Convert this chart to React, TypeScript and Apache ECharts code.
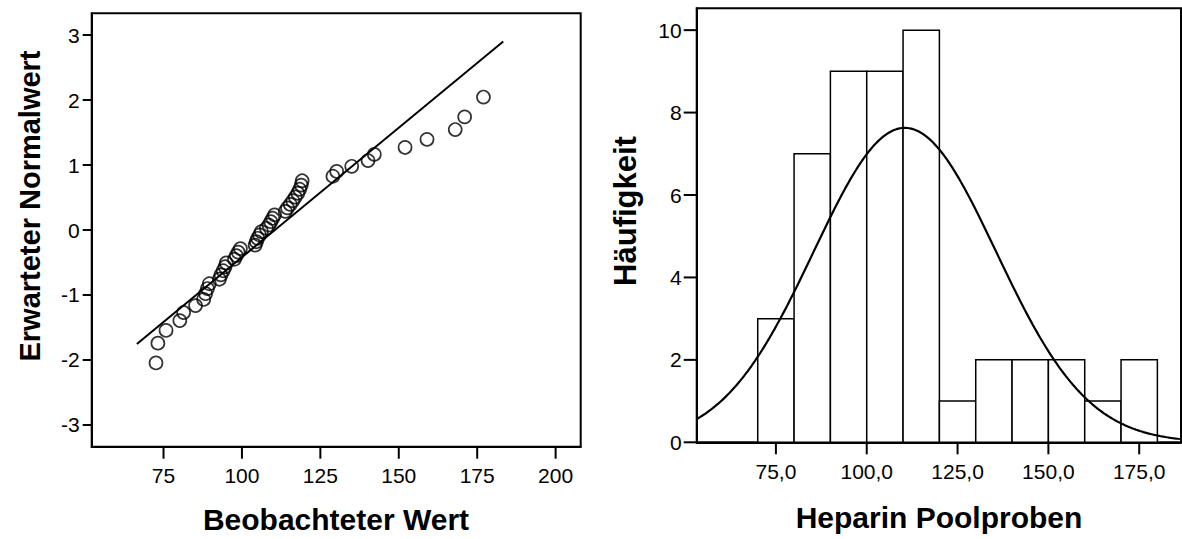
import React, { useEffect, useRef } from "react";
import * as echarts from "echarts";

// Observed heparin pool sample values, sorted ascending (n = 48)
const observedValues = [
  72.6, 73.2, 75.8, 80.2, 81.4, 85.2, 87.8, 88.4, 89.0, 89.6,
  92.8, 93.3, 94.0, 94.6, 95.0, 97.6, 98.2, 98.8, 99.5,
  104.2, 104.6, 105.0, 105.6, 106.2, 107.8, 108.6, 109.2, 109.8,
  110.4, 113.8, 114.5, 115.4, 116.2, 117.0, 117.8, 118.4, 118.9, 119.2,
  129.0, 130.2, 135.0, 140.2, 142.2, 152.0, 159.0, 168.0, 171.0, 177.0,
];

// Expected normal value for each rank
const expectedNormal = [
  -2.045, -1.741, -1.545, -1.394, -1.27, -1.163, -1.068, -0.98, -0.901, -0.827,
  -0.757, -0.691, -0.627, -0.566, -0.507, -0.45, -0.394, -0.34, -0.286,
  -0.233, -0.18, -0.128, -0.077, -0.026, 0.026, 0.077, 0.128, 0.18,
  0.233, 0.286, 0.34, 0.394, 0.45, 0.507, 0.566, 0.627, 0.691, 0.757,
  0.827, 0.901, 0.98, 1.068, 1.163, 1.27, 1.394, 1.545, 1.741, 2.045,
];

// Histogram bins
const binStarts = [70, 80, 90, 100, 110, 120, 130, 140, 150, 160, 170];
const binCounts = [3, 7, 9, 9, 10, 1, 2, 2, 2, 1, 2];
const binWidth = 10;

// Fitted normal distribution
const fitMean = 110.5;
const fitSd = 25.1;
const sampleSize = 48;
const qqLineRange = [66.5, 183.3];

// Tick labels
const qqTicksX = [75, 100, 125, 150, 175, 200];
const qqTicksY = [-3, -2, -1, 0, 1, 2, 3];
const histTicksX = [75, 100, 125, 150, 175];
const histTicksY = [0, 2, 4, 6, 8, 10];

const FONT = "'Liberation Sans', Arial, Helvetica, sans-serif";

const QQ_X_MIN = 52.1;
const QQ_X_MAX = 208;
const QQ_Y_MIN = -3.334;
const QQ_Y_MAX = 3.334;
const HIST_X_MIN = 53.2;
const HIST_X_MAX = 186.5;
const HIST_Y_MIN = 0;
const HIST_Y_MAX = 10.53;

function normalCurve(): number[][] {
  const pts: number[][] = [];
  const scale = sampleSize * binWidth;
  for (let x = HIST_X_MIN; x <= HIST_X_MAX + 0.001; x += 0.5) {
    const z = (x - fitMean) / fitSd;
    pts.push([x, (scale / (fitSd * Math.sqrt(2 * Math.PI))) * Math.exp(-0.5 * z * z)]);
  }
  return pts;
}

// Bottom axis labels: a short tick bar on the first line, the value below it
function xLabel(values: number[], tickLen: number, fmt: (v: number) => string) {
  return {
    show: true,
    customValues: values,
    margin: 0,
    formatter: (v: number) => `{t|}\n{v|${fmt(v)}}`,
    rich: {
      t: { width: 2, height: tickLen, lineHeight: tickLen, backgroundColor: "#000" },
      v: { fontSize: 21, lineHeight: 34, color: "#000", fontFamily: FONT },
    },
  };
}

// Left axis labels: value, a gap, then a short tick bar touching the axis
function yLabel(values: number[], tickLen: number, gap: number) {
  return {
    show: true,
    customValues: values,
    margin: 0,
    formatter: (v: number) => `{v|${v}}{g|}{t|}`,
    rich: {
      v: { fontSize: 21, lineHeight: 24, color: "#000", fontFamily: FONT },
      g: { width: gap, height: 2 },
      t: { width: tickLen, height: 2, backgroundColor: "#000" },
    },
  };
}

export default function App() {
  const ref = useRef<HTMLDivElement>(null);

  useEffect(() => {
    if (!ref.current) return;
    const chart = echarts.init(ref.current, null, { renderer: "svg" });

    const axisLine = { show: true, onZero: false, lineStyle: { color: "#000", width: 2 } };
    const titleStyle = (text: string, size: number) => ({
      text,
      fill: "#000",
      font: `bold ${size}px ${FONT}`,
      textAlign: "center",
      textVerticalAlign: "middle",
      align: "center",
      verticalAlign: "middle",
    });

    const qqPoints = observedValues.map((v, i) => [v, expectedNormal[i]]);
    const qqLine = qqLineRange.map((x) => [x, (x - fitMean) / fitSd]);
    const bins = binStarts.map((s, i) => [s, s + binWidth, binCounts[i]]);

    chart.setOption({
      animation: false,
      backgroundColor: "#fff",
      grid: [
        { left: 91.7, top: 13.3, width: 489, height: 433.4, show: true, borderColor: "#000", borderWidth: 2, backgroundColor: "transparent" },
        { left: 696.7, top: 8.3, width: 484.3, height: 434, show: true, borderColor: "#000", borderWidth: 2, backgroundColor: "transparent" },
      ],
      xAxis: [
        {
          type: "value", gridIndex: 0, min: QQ_X_MIN, max: QQ_X_MAX,
          axisLine, axisTick: { show: false },
          axisLabel: xLabel(qqTicksX, 12, (v) => String(v)),
          splitLine: { show: false },
        },
        {
          type: "value", gridIndex: 1, min: HIST_X_MIN, max: HIST_X_MAX,
          axisLine, axisTick: { show: false },
          axisLabel: xLabel(histTicksX, 12, (v) => v.toFixed(1).replace(".", ",")),
          splitLine: { show: false },
        },
      ],
      yAxis: [
        {
          type: "value", gridIndex: 0, min: QQ_Y_MIN, max: QQ_Y_MAX,
          axisLine, axisTick: { show: false }, axisLabel: yLabel(qqTicksY, 9, 3),
          splitLine: { show: false },
        },
        {
          type: "value", gridIndex: 1, min: HIST_Y_MIN, max: HIST_Y_MAX,
          axisLine, axisTick: { show: false }, axisLabel: yLabel(histTicksY, 13, 2),
          splitLine: { show: false },
        },
      ],
      series: [
        {
          type: "line", xAxisIndex: 0, yAxisIndex: 0, data: qqLine,
          showSymbol: false, lineStyle: { color: "#000", width: 2 }, z: 2,
        },
        {
          type: "scatter", xAxisIndex: 0, yAxisIndex: 0, data: qqPoints,
          symbol: "circle", symbolSize: 13,
          itemStyle: { color: "rgba(0,0,0,0)", borderColor: "#000", borderWidth: 1.7 },
          z: 3,
        },
        {
          type: "custom", xAxisIndex: 1, yAxisIndex: 1, data: bins,
          encode: { x: [0, 1], y: 2 },
          renderItem: (_params: any, api: any) => {
            const p0 = api.coord([api.value(0), api.value(2)]);
            const p1 = api.coord([api.value(1), 0]);
            return {
              type: "rect",
              shape: { x: p0[0], y: p0[1], width: p1[0] - p0[0], height: p1[1] - p0[1] },
              style: { fill: "#fff", stroke: "#000", lineWidth: 1.5 },
            };
          },
          z: 2,
        },
        {
          type: "line", xAxisIndex: 1, yAxisIndex: 1, data: normalCurve(),
          showSymbol: false, smooth: false, lineStyle: { color: "#000", width: 2.2 }, z: 3,
        },
      ],
      graphic: [
        { type: "text", x: 336, y: 519, style: titleStyle("Beobachteter Wert", 30) },
        { type: "text", x: 30, y: 206, rotation: Math.PI / 2, style: titleStyle("Erwarteter Normalwert", 29) },
        { type: "text", x: 939, y: 517, style: titleStyle("Heparin Poolproben", 30) },
        { type: "text", x: 625, y: 211, rotation: Math.PI / 2, style: titleStyle("Häufigkeit", 31) },
      ],
    });

    return () => chart.dispose();
  }, []);

  return (
    <div
      ref={ref}
      style={{ position: "absolute", left: 0, top: 0, width: 1182, height: 539 }}
    />
  );
}
